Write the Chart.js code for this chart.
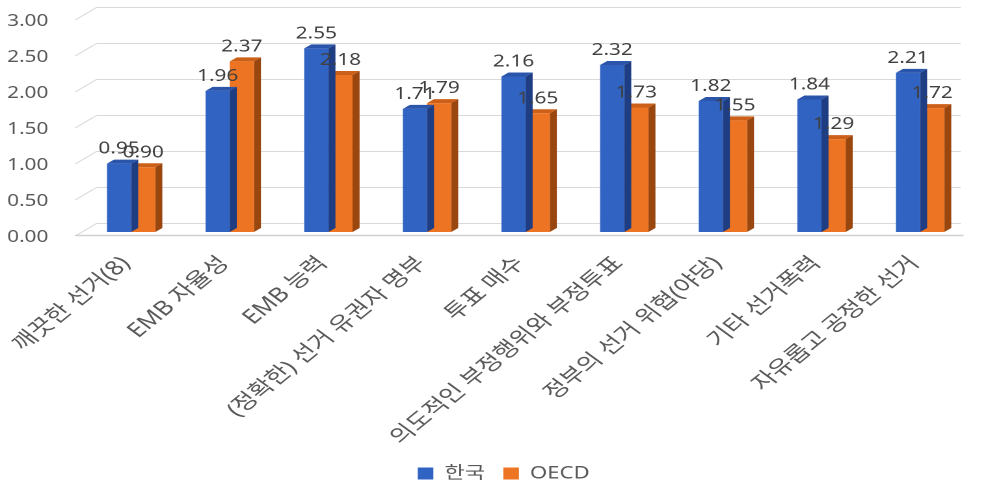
<!DOCTYPE html>
<html>
<head>
<meta charset="utf-8">
<script src="https://cdn.jsdelivr.net/npm/chart.js@4/dist/chart.umd.min.js"></script>
<style>
  html, body { margin: 0; padding: 0; background: #ffffff; overflow: hidden; }
  #wrap { position: absolute; left: 0; top: 0; height: 486px; transform-origin: 0 0; }
</style>
</head>
<body>
<div id="wrap"><canvas id="c"></canvas></div>
<script>
// Categories and scores
const categories = [
  '깨끗한 선거(8)',
  'EMB 자율성',
  'EMB 능력',
  '(정확한) 선거 유권자 명부',
  '투표 매수',
  '의도적인 부정행위와 부정투표',
  '정부의 선거 위협(야당)',
  '기타 선거폭력',
  '자유롭고 공정한 선거'
];
const koreaScores = [0.95, 1.96, 2.55, 1.71, 2.16, 2.32, 1.82, 1.84, 2.21];
const oecdScores  = [0.90, 2.37, 2.18, 1.79, 1.65, 1.73, 1.55, 1.29, 1.72];
const seriesNames = ['한국', 'OECD'];
const yRange = { min: 0, max: 3, step: 0.5 };

// The page is drawn on a narrower canvas and widened horizontally.
const STRETCH = 1.3;
const PAGE_W = 981, PAGE_H = 486;
const wrap = document.getElementById('wrap');
wrap.style.width = (PAGE_W / STRETCH) + 'px';
wrap.style.transform = 'scaleX(' + STRETCH + ')';

const FONT = "'Noto Sans', 'Noto Sans CJK KR', sans-serif";
const DX = 5.4, DY = -4;           // bar extrusion
const FRONT = ['#3163C2', '#ED7422'];
const TOP   = ['#2A55AA', '#CC6019'];
const SIDE  = ['#1E3D82', '#9A460F'];

// back wall grid and floor edge
const backWall = {
  id: 'backWall',
  beforeDatasetsDraw(chart) {
    const { ctx, chartArea: { left, right }, scales: { y } } = chart;
    ctx.save();
    ctx.strokeStyle = '#d9d9d9';
    ctx.lineWidth = 1;
    y.ticks.forEach(t => {
      const py = y.getPixelForValue(t.value);
      ctx.beginPath();
      ctx.moveTo(left - 5.2, py + 4);
      ctx.lineTo(left + 11.3, py - 8.5);
      ctx.lineTo(right - 6.7, py - 8.5);
      ctx.stroke();
    });
    const p0 = y.getPixelForValue(0);
    ctx.strokeStyle = '#d0d0d0';
    ctx.lineWidth = 1.5;
    ctx.beginPath();
    ctx.moveTo(left - 5.2, p0 + 3.5);
    ctx.lineTo(right - 4.4, p0 + 3.5);
    ctx.stroke();
    ctx.restore();
  }
};

// side and top faces of each bar, drawn just before its front face
const barDepth = {
  id: 'barDepth',
  beforeDatasetDraw(chart, args) {
    const ctx = chart.ctx;
    const i = args.index;
    ctx.save();
    args.meta.data.forEach(bar => {
      const { x, y, base, width } = bar.getProps(['x', 'y', 'base', 'width'], true);
      const l = x - width / 2, r = x + width / 2;
      ctx.fillStyle = SIDE[i];
      ctx.beginPath();
      ctx.moveTo(r, base); ctx.lineTo(r + DX, base + DY);
      ctx.lineTo(r + DX, y + DY); ctx.lineTo(r, y);
      ctx.closePath(); ctx.fill();
      ctx.fillStyle = TOP[i];
      ctx.beginPath();
      ctx.moveTo(l, y); ctx.lineTo(l + DX, y + DY);
      ctx.lineTo(r + DX, y + DY); ctx.lineTo(r, y);
      ctx.closePath(); ctx.fill();
    });
    ctx.restore();
  }
};

// value labels above the bars
const valueLabels = {
  id: 'valueLabels',
  afterDatasetsDraw(chart) {
    const ctx = chart.ctx;
    ctx.save();
    ctx.font = '16px ' + FONT;
    ctx.fillStyle = '#404040';
    ctx.textAlign = 'center';
    ctx.textBaseline = 'middle';
    chart.data.datasets.forEach((ds, i) => {
      chart.getDatasetMeta(i).data.forEach((bar, j) => {
        ctx.fillText(ds.data[j].toFixed(2), bar.x, bar.y - 14.5);
      });
    });
    ctx.restore();
  }
};

// legend sits a little right of the page centre
const legendShift = {
  id: 'legendShift',
  afterLayout(chart) {
    const lg = chart.legend;
    if (lg) { lg.left += 14.6; lg.right += 14.6; }
  }
};

new Chart(document.getElementById('c'), {
  type: 'bar',
  data: {
    labels: categories,
    datasets: [
      { label: seriesNames[0], data: koreaScores, backgroundColor: FRONT[0], borderWidth: 0 },
      { label: seriesNames[1], data: oecdScores,  backgroundColor: FRONT[1], borderWidth: 0 }
    ]
  },
  options: {
    responsive: true,
    maintainAspectRatio: false,
    animation: false,
    devicePixelRatio: 2,
    categoryPercentage: 0.49,
    barPercentage: 1.0,
    layout: { padding: { left: 0, right: 9.4, top: 16, bottom: -6 } },
    plugins: {
      legend: {
        position: 'bottom',
        labels: { boxWidth: 12, boxHeight: 12, padding: 14, color: '#595959', font: { family: FONT, size: 17 } }
      },
      tooltip: { enabled: false }
    },
    scales: {
      x: {
        grid: { display: false, drawTicks: false },
        border: { display: false },
        ticks: {
          autoSkip: false, minRotation: 46.5, maxRotation: 46.5, padding: 20, labelOffset: -4,
          color: '#595959', font: { family: FONT, size: 20 }
        },
        afterFit(scale) { scale.height = 219; scale.paddingLeft = 0; scale.paddingRight = 0; }
      },
      y: {
        min: yRange.min, max: yRange.max,
        grid: { display: false, drawTicks: false },
        border: { display: false },
        ticks: {
          stepSize: yRange.step, padding: 25.7, labelOffset: 5.5,
          color: '#595959', font: { family: FONT, size: 16 },
          callback: v => Number(v).toFixed(2)
        },
        afterFit(scale) { scale.width = 62.9; scale.paddingTop = 0; scale.paddingBottom = 0; }
      }
    }
  },
  plugins: [backWall, barDepth, valueLabels, legendShift]
});
</script>
</body>
</html>
